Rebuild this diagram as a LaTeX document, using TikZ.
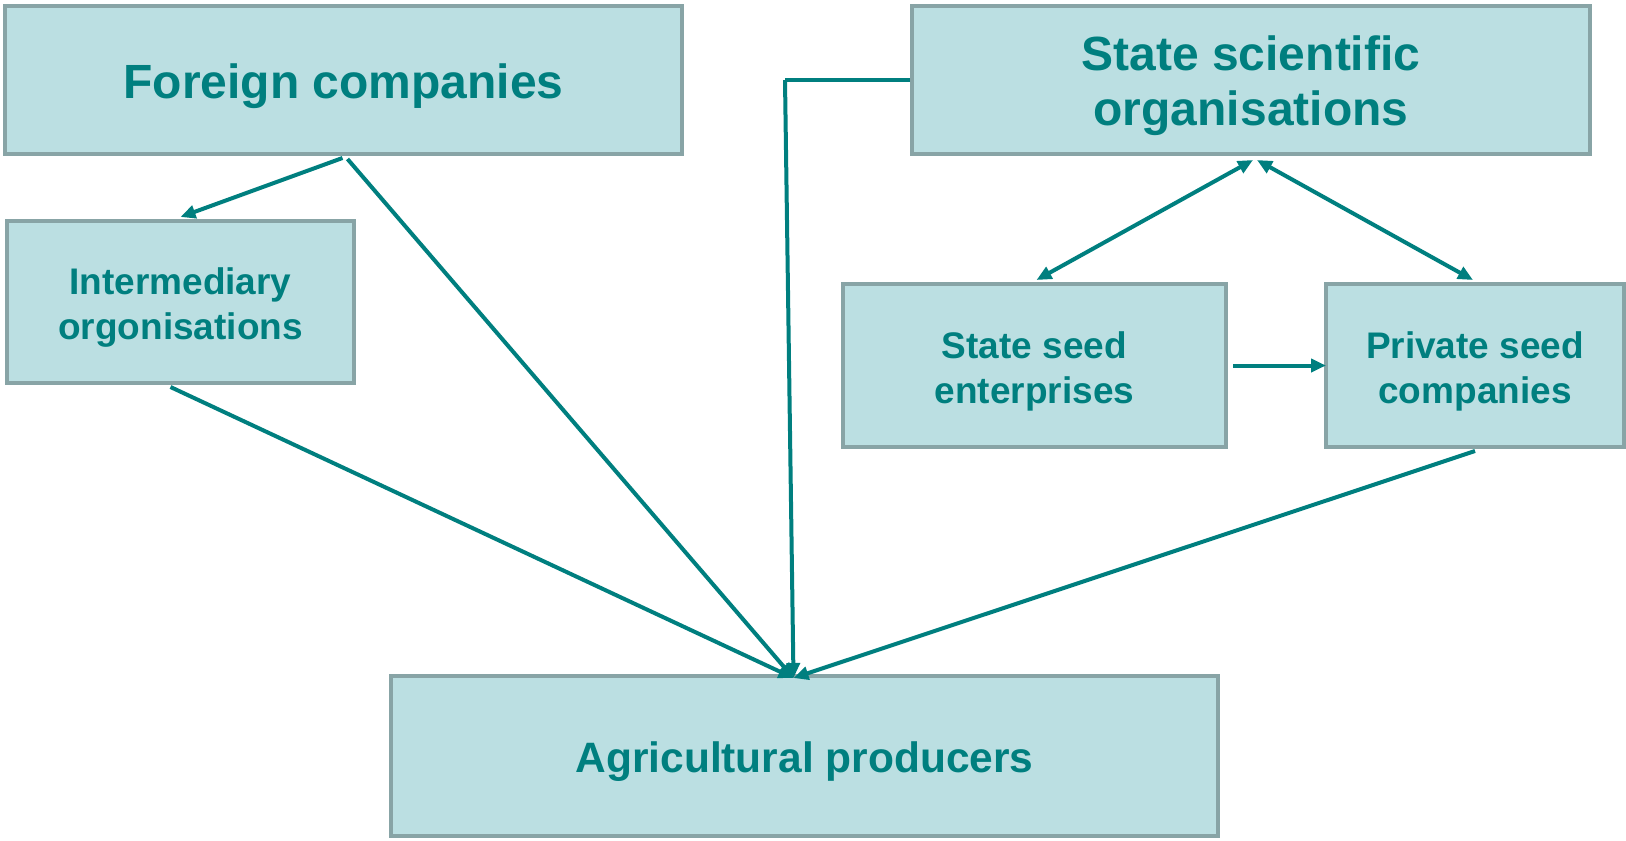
\documentclass[tikz,border=0pt]{standalone}
\usepackage{fontspec}
\setmainfont{Liberation Sans}
\usetikzlibrary{arrows.meta}
\definecolor{boxfill}{HTML}{BBDFE2}
\definecolor{boxline}{HTML}{88A4A6}
\definecolor{teal}{HTML}{007F7F}
\begin{document}
\begin{tikzpicture}[x=1pt,y=-1pt,
  box/.style={draw=boxline, fill=boxfill, line width=4pt, inner sep=0pt},
  lbl/.style={text=teal, align=center, inner sep=0pt, yshift=-6pt},
  big/.style={font=\bfseries\fontsize{48}{55}\selectfont},
  mid/.style={font=\bfseries\fontsize{42.5}{50}\selectfont},
  small/.style={font=\bfseries\fontsize{37}{45}\selectfont},
  link/.style={draw=teal, line width=4pt, -{Triangle[length=15pt,width=13pt]}},
  both/.style={draw=teal, line width=4pt, {Triangle[length=15pt,width=13pt]}-{Triangle[length=15pt,width=13pt]}},
  plain/.style={draw=teal, line width=4pt}
]
\useasboundingbox (0,0) rectangle (1626,841);

\node[box,minimum width=677pt,minimum height=148pt,
  label={[lbl,big]center:Foreign companies}] (foreign) at (343.5,80) {};
\node[box,minimum width=347pt,minimum height=162pt,
  label={[lbl,small]center:{Intermediary\\orgonisations}}] (inter) at (180.5,302) {};
\node[box,minimum width=678pt,minimum height=148pt,
  label={[lbl,big]center:{State scientific\\organisations}}] (sci) at (1251,80) {};
\node[box,minimum width=383pt,minimum height=163pt,
  label={[lbl,small]center:{State seed\\enterprises}}] (seed) at (1034.5,365.5) {};
\node[box,minimum width=298pt,minimum height=163pt,
  label={[lbl,small]center:{Private seed\\companies}}] (priv) at (1475,365.5) {};
\node[box,minimum width=827pt,minimum height=160pt,
  label={[lbl,mid]center:Agricultural producers}] (agri) at (804.5,756) {};

\coordinate (hit) at ([xshift=-11pt,yshift=-4pt]agri.north);
\coordinate (bend) at ([xshift=-125pt]sci.west);

\draw[link] ([xshift=-1pt,yshift=-2pt]foreign.south) -- ([yshift=2pt]inter.north);
\draw[link] ([xshift=4pt,yshift=-3pt]foreign.south) -- (hit);
\draw[link] ([xshift=-10pt,yshift=-2pt]inter.south) -- (hit);
\draw[plain] (sci.west) -- (bend);
\draw[link] (bend) -- (hit);
\draw[link] ([yshift=-2pt]priv.south) -- (hit);
\draw[link] ([xshift=5pt]seed.east) -- ([xshift=2pt]priv.west);
\draw[both] ([xshift=2pt,yshift=-4pt]sci.south) -- ([xshift=2pt,yshift=2pt]seed.north);
\draw[both] ([xshift=6pt,yshift=-4pt]sci.south) -- ([xshift=-2pt,yshift=2pt]priv.north);
\end{tikzpicture}
\end{document}
